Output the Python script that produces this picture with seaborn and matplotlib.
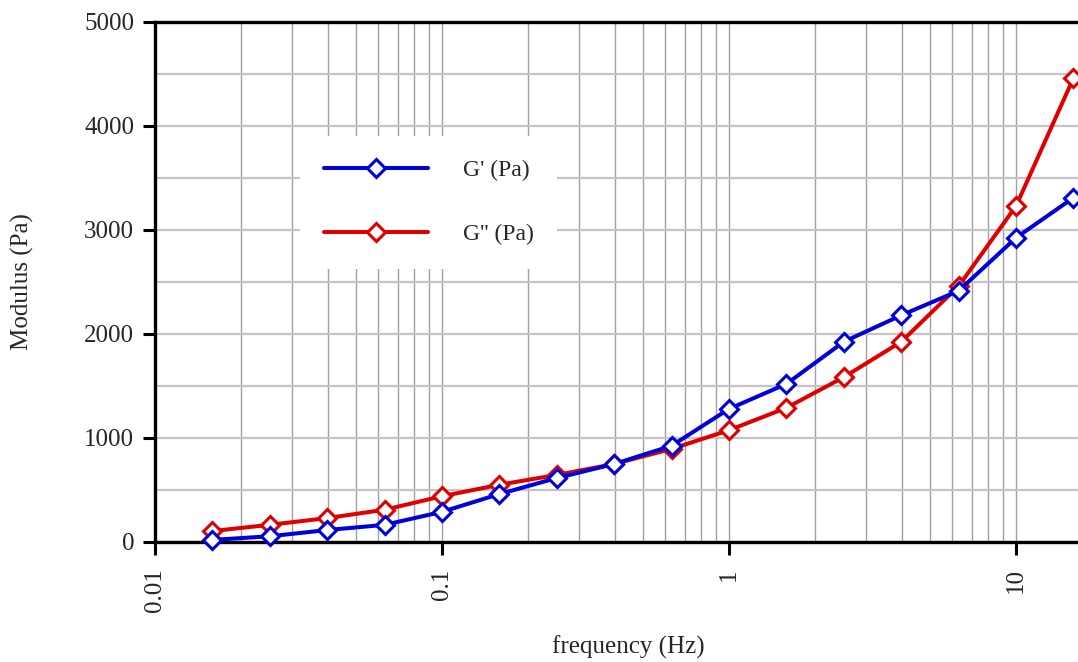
import matplotlib
matplotlib.use("Agg")
import matplotlib.pyplot as plt
import matplotlib.ticker as mticker
import seaborn as sns
import pandas as pd
import math

freq = [0.0158, 0.0251, 0.0398, 0.0631, 0.1, 0.158, 0.251, 0.398, 0.631,
        1.0, 1.585, 2.512, 3.981, 6.31, 10.0, 15.85]
g_storage = [20, 55, 115, 165, 290, 460, 615, 750, 925, 1280, 1520, 1925,
             2180, 2415, 2925, 3310]
g_loss = [105, 165, 230, 310, 440, 550, 645, 750, 895, 1075, 1290, 1585,
          1925, 2460, 3230, 4460]
labels = ["G' (Pa)", "G'' (Pa)"]
xticks = [0.01, 0.1, 1, 10]
xtick_labels = ["0.01", "0.1", "1", "10"]
yticks = [0, 1000, 2000, 3000, 4000, 5000]

sns.set_style("white")
plt.rcParams['font.family'] = ['Liberation Serif', 'DejaVu Serif']

W, H = 1078, 662
fig = plt.figure(figsize=(W / 100, H / 100), dpi=100)
left = 155 / W
bottom = (H - 542) / H
top = (H - 22) / H
xmax = 20.0
right_px = 155 + 287 * math.log10(xmax / 0.01)
ax_w_px = right_px - 155
ax = fig.add_axes([left, bottom, ax_w_px / W, top - bottom])

df = pd.DataFrame({"f": freq, "gs": g_storage, "gl": g_loss})

blue = '#0000dc'
red = '#e00000'
common = dict(marker='D', markersize=9.5, markerfacecolor='white',
              markeredgewidth=2.2, linewidth=2.9, clip_on=False)
sns.lineplot(data=df, x="f", y="gl", ax=ax, color=red, label=labels[1],
             markeredgecolor=red, zorder=3, **common)
sns.lineplot(data=df, x="f", y="gs", ax=ax, color=blue, label=labels[0],
             markeredgecolor=blue, zorder=4, **common)

ax.set_xscale('log')
ax.set_xlim(0.01, xmax)
ax.set_ylim(0, 5000)
ax.set_xticks(xticks)
ax.set_xticklabels(xtick_labels, rotation=90)
ax.xaxis.set_minor_locator(mticker.LogLocator(base=10, subs=range(2, 10), numticks=20))
ax.xaxis.set_minor_formatter(mticker.NullFormatter())
ax.set_yticks(yticks)
ax.set_yticklabels([str(v) for v in yticks])
ax.yaxis.set_minor_locator(mticker.MultipleLocator(500))

ax.grid(True, which='both', axis='x', color='#a0a0a0', linewidth=1.0)
ax.grid(True, which='both', axis='y', color='#c4c4c4', linewidth=1.6)
ax.set_axisbelow(True)

ax.tick_params(axis='both', which='major', direction='out', length=9, width=2.2,
               labelsize=18, color='black', left=True, bottom=True)
ax.tick_params(axis='y', which='major', pad=6)
ax.tick_params(axis='x', which='major', pad=10)
ax.tick_params(axis='both', which='minor', length=0)

for s in ['left', 'bottom', 'top', 'right']:
    ax.spines[s].set_visible(True)
    ax.spines[s].set_color('black')
    ax.spines[s].set_linewidth(2.4)

ax.set_xlabel("frequency (Hz)", fontsize=18)
ax.set_ylabel("Modulus (Pa)", fontsize=18)
ax.xaxis.set_label_coords(0.5, (542 - 636) / 520)
ax.yaxis.set_label_coords((34 - 155) / ax_w_px, 0.5)

handles, lbls = ax.get_legend_handles_labels()
order = [lbls.index(labels[0]), lbls.index(labels[1])]
leg = ax.legend([handles[i] for i in order], [lbls[i] for i in order],
                loc='upper left', bbox_to_anchor=(300 / W, 1 - 136 / H),
                bbox_transform=fig.transFigure, borderaxespad=0,
                frameon=True, fancybox=False, facecolor='white', edgecolor='white',
                framealpha=1, fontsize=17, handlelength=4.4, borderpad=1.0,
                handletextpad=1.5, labelspacing=1.8)
leg.get_frame().set_linewidth(0)

fig.savefig("out.png", dpi=100)
